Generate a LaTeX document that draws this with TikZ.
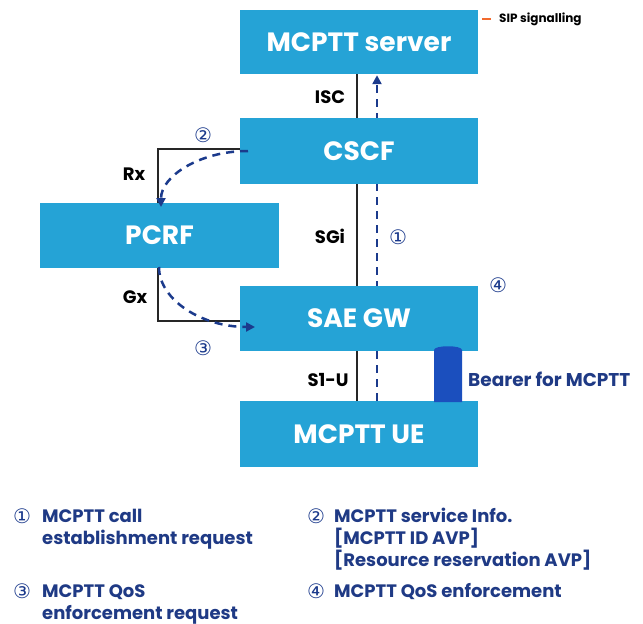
\documentclass[tikz,border=0pt]{standalone}
\usepackage{fontspec}
\setmainfont{Poppins}
\newfontfamily\symfont{DejaVu Sans}
\usetikzlibrary{arrows.meta}
\definecolor{boxblue}{HTML}{25A3D6}
\definecolor{flowblue}{HTML}{1B3A8C}
\definecolor{textblue}{HTML}{1F3A85}
\definecolor{bearerblue}{HTML}{1B4FBE}
\definecolor{sigorange}{HTML}{F26A2E}
\tikzset{
  x=1pt, y=-1pt,
  entity/.style={fill=boxblue, minimum width=238pt, inner sep=0pt, text=white,
    font=\bfseries\fontsize{26.5}{30}\selectfont},
  iface/.style={font=\bfseries\fontsize{18}{20}\selectfont, text=black, inner sep=0pt},
  link/.style={line width=1.2pt, black!85},
  flow/.style={flowblue, line width=2.5pt, dash pattern=on 8pt off 6pt,
    -{Triangle[length=9pt,width=9pt]}},
  stepnum/.style={text=flowblue, inner sep=0pt, font=\symfont\fontsize{20}{22}\selectfont},
  legend/.style={text=textblue, inner sep=0pt, anchor=base west,
    font=\bfseries\fontsize{18}{22}\selectfont},
}
\begin{document}
\begin{tikzpicture}
\useasboundingbox[fill=white] (0,0) rectangle (643,624);

% column positions of the reference point and the signalling flow
\coordinate (lx) at (357,0);
\coordinate (dx) at (377,0);

% signalling flow drawn first so the boxes cover it
\path (359,42) node[entity, minimum height=64pt] (server) {MCPTT server};
\path (359,434) node[entity, minimum height=66pt] (ue) {MCPTT UE};
\draw[flow] (ue.north -| dx) -- ([yshift=-1pt]server.south -| dx);

% network entities
\node[entity, minimum height=64pt] at (359,42) {MCPTT server};
\node[entity, minimum height=66pt] (cscf) at (359,151) {CSCF};
\node[entity, minimum width=239pt, minimum height=65pt] (pcrf) at (159.5,235.5) {PCRF};
\node[entity, minimum height=65pt] (sae) at (359,318.5) {SAE GW};
\node[entity, minimum height=66pt] at (359,434) {MCPTT UE};

% reference points
\draw[link] (server.south -| lx) -- (cscf.north -| lx);
\draw[link] (cscf.south -| lx) -- (sae.north -| lx);
\draw[link] (sae.south -| lx) -- (ue.north -| lx);
\coordinate (rxc) at (158,149);
\coordinate (gxc) at (158,321);
\draw[link] (cscf.west |- rxc) -- (rxc) -- (pcrf.north -| rxc);
\draw[link] (pcrf.south -| gxc) -- (gxc) -- (sae.west |- gxc);

\node[iface] at (330,97) {ISC};
\node[iface] at (330,236) {SGi};
\node[iface] at (328,380) {S1-U};
\node[iface] at (134,174) {Rx};
\node[iface] at (135,297) {Gx};

% policy flows
\coordinate (f2s) at (248,151);
\coordinate (f2e) at (161,207);
\coordinate (f3s) at (159,267);
\coordinate (f3e) at (255,327);
\draw[flow] (f2s) .. controls (200,151) and (161,176) .. (f2e);
\draw[flow] (f3s) .. controls (159,300) and (202,327) .. (f3e);

% step markers
\node[stepnum] at (398,237) {①};
\node[stepnum] at (203,135) {②};
\node[stepnum] at (203,348) {③};
\node[stepnum] at (498,285) {④};

% bearer
\fill[bearerblue] (434,402) -- (434,350) .. controls (434,345) and (462,345) .. (462,350) -- (462,402) -- cycle;
\node[text=textblue, anchor=west, inner sep=0pt, font=\bfseries\fontsize{18.5}{20}\selectfont] (bearer) at (468,379) {Bearer for MCPTT};

% signalling key
\coordinate (sk) at (482,19);
\draw[sigorange, line width=2.5pt] (sk) -- ++(9,0);
\node[anchor=west, inner sep=0pt, font=\bfseries\fontsize{12}{14}\selectfont] (sip) at (499,19) {SIP signalling};

% legend
\node[stepnum] at (22,516) {①};
\node[legend] at (42,522) {MCPTT call};
\node[legend] at (42,544) {establishment request};
\node[stepnum] at (316,516) {②};
\node[legend] at (334,522) {MCPTT service Info.};
\node[legend] at (334,544) {[MCPTT ID AVP]};
\node[legend] at (334,566) {[Resource reservation AVP]};
\node[stepnum] at (22,591) {③};
\node[legend] at (42,597) {MCPTT QoS};
\node[legend] at (42,619) {enforcement request};
\node[stepnum] at (316,591) {④};
\node[legend] at (334,597) {MCPTT QoS enforcement};
\end{tikzpicture}
\end{document}
